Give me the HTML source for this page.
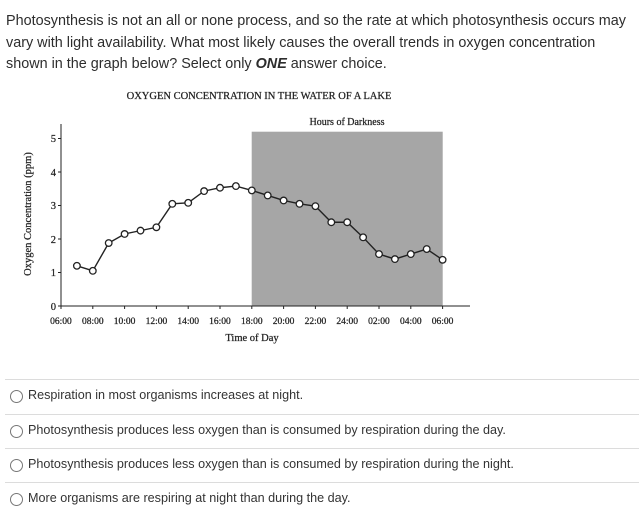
<!DOCTYPE html>
<html><head><meta charset="utf-8"><style>
body{margin:0;width:639px;height:521px;background:#fff;font-family:"Liberation Sans",Arial,sans-serif;color:#333;position:relative;overflow:hidden}
.q{position:absolute;left:6px;top:11px;width:630px;font-size:14.4px;line-height:21.5px;color:#2d2d2d}
.opt{position:absolute;left:5px;width:634px;height:34px;border-top:1px solid #dcdcdc}
.opt span.r{position:absolute;left:5px;top:10px;width:11px;height:11px;border:1px solid #777;border-radius:50%}
.opt span.t{position:absolute;left:23px;top:8px;font-size:12.6px;color:#333}
svg text{stroke:#222;stroke-width:0.25}
</style></head><body>
<div class="q">Photosynthesis is not an all or none process, and so the rate at which photosynthesis occurs may vary with light availability. What most likely causes the overall trends in oxygen concentration shown in the graph below? Select only <b><i>ONE</i></b> answer choice.</div>
<svg width="639" height="521" style="position:absolute;left:0;top:0" font-family="Liberation Serif,serif" fill="#222">
<text x="259" y="99" font-size="10.5" text-anchor="middle">OXYGEN CONCENTRATION IN THE WATER OF A LAKE</text>
<rect x="251.7" y="131.7" width="191" height="174.3" fill="#a6a6a6"/>
<text x="347" y="125" font-size="10" text-anchor="middle">Hours of Darkness</text>
<g stroke="#222" stroke-width="1">
<line x1="61" y1="124" x2="61" y2="306"/>
<line x1="61" y1="306" x2="470" y2="306"/>
<line x1="58" y1="306" x2="61" y2="306"/><line x1="58" y1="272.5" x2="61" y2="272.5"/><line x1="58" y1="239" x2="61" y2="239"/><line x1="58" y1="205.5" x2="61" y2="205.5"/><line x1="58" y1="172" x2="61" y2="172"/><line x1="58" y1="138.5" x2="61" y2="138.5"/>
</g>
<g font-size="10.5" text-anchor="end"><text x="56" y="310">0</text><text x="56" y="276">1</text><text x="56" y="243">2</text><text x="56" y="209">3</text><text x="56" y="176">4</text><text x="56" y="142">5</text></g>
<g font-size="9.5" text-anchor="middle" id="xt"></g>
<text x="252" y="341" font-size="10.5" text-anchor="middle">Time of Day</text>
<text transform="translate(31,214) rotate(-90)" font-size="10.5" text-anchor="middle">Oxygen Concentration (ppm)</text>
<g id="d"></g>
</svg>
<script>
var ns="http://www.w3.org/2000/svg";
var labs=["06:00","08:00","10:00","12:00","14:00","16:00","18:00","20:00","22:00","24:00","02:00","04:00","06:00"];
var xt=document.getElementById("xt");
labs.forEach(function(l,i){var x=61+i*31.8;var t=document.createElementNS(ns,"text");t.setAttribute("x",x);t.setAttribute("y",324);t.textContent=l;xt.appendChild(t);
var ln=document.createElementNS(ns,"line");ln.setAttribute("x1",x);ln.setAttribute("x2",x);ln.setAttribute("y1",306);ln.setAttribute("y2",309);ln.setAttribute("stroke","#222");xt.appendChild(ln);});
var v=[1.2,1.05,1.88,2.15,2.25,2.35,3.05,3.08,3.43,3.53,3.58,3.45,3.3,3.15,3.05,2.98,2.5,2.5,2.05,1.55,1.4,1.55,1.7,1.38];
var pts=v.map(function(y,i){return [61+(i+1)*15.9,306-y*33.5];});
var d=document.getElementById("d");
var pl=document.createElementNS(ns,"polyline");pl.setAttribute("points",pts.map(function(p){return p.join(",")}).join(" "));pl.setAttribute("fill","none");pl.setAttribute("stroke","#222");pl.setAttribute("stroke-width","1.4");d.appendChild(pl);
pts.forEach(function(p){var c=document.createElementNS(ns,"circle");c.setAttribute("cx",p[0]);c.setAttribute("cy",p[1]);c.setAttribute("r",3.3);c.setAttribute("fill","#fff");c.setAttribute("stroke","#222");c.setAttribute("stroke-width","1.3");d.appendChild(c);});
</script>
<div class="opt" style="top:379px"><span class="r"></span><span class="t">Respiration in most organisms increases at night.</span></div>
<div class="opt" style="top:414px"><span class="r"></span><span class="t">Photosynthesis produces less oxygen than is consumed by respiration during the day.</span></div>
<div class="opt" style="top:448px"><span class="r"></span><span class="t">Photosynthesis produces less oxygen than is consumed by respiration during the night.</span></div>
<div class="opt" style="top:482px"><span class="r"></span><span class="t">More organisms are respiring at night than during the day.</span></div>
</body></html>
